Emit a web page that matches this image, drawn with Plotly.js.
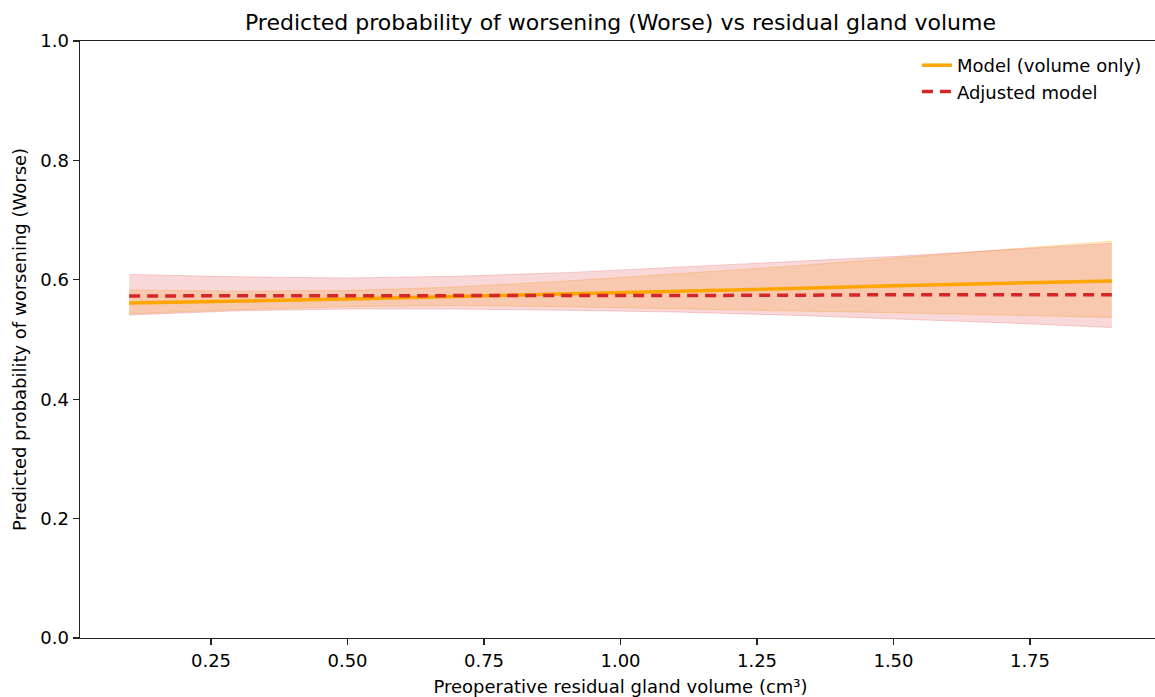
<!DOCTYPE html>
<html>
<head>
<meta charset="utf-8">
<script src="https://cdn.plot.ly/plotly-3.0.1.min.js"></script>
<style>
html, body { margin: 0; padding: 0; overflow: hidden; background: #ffffff; }
#chart { width: 1166px; height: 697px; }
</style>
</head>
<body>
<div id="chart"></div>
<script>
// Data
const volume = [0.1, 0.3, 0.5, 0.7, 0.9, 1.1, 1.3, 1.5, 1.7, 1.9];
const modelVolumeOnly = [0.561, 0.564, 0.568, 0.572, 0.576, 0.580, 0.585, 0.590, 0.594, 0.598];
const modelVolumeOnlyLow = [0.543, 0.550, 0.555, 0.557, 0.555, 0.551, 0.548, 0.545, 0.541, 0.537];
const modelVolumeOnlyHigh = [0.583, 0.581, 0.582, 0.588, 0.598, 0.610, 0.622, 0.636, 0.650, 0.665];
const adjustedModel = [0.573, 0.573, 0.574, 0.574, 0.574, 0.574, 0.574, 0.575, 0.575, 0.575];
const adjustedLow = [0.541, 0.548, 0.551, 0.551, 0.549, 0.546, 0.541, 0.535, 0.528, 0.520];
const adjustedHigh = [0.609, 0.605, 0.603, 0.606, 0.612, 0.621, 0.630, 0.639, 0.650, 0.661];
const xTickVals = [0.25, 0.50, 0.75, 1.00, 1.25, 1.50, 1.75];
const xTickText = ["0.25", "0.50", "0.75", "1.00", "1.25", "1.50", "1.75"];
const yTickVals = [0.0, 0.2, 0.4, 0.6, 0.8, 1.0];
const yTickText = ["0.0", "0.2", "0.4", "0.6", "0.8", "1.0"];

const FONT = "DejaVu Sans, sans-serif";

const traces = [
  // Volume-only model CI band
  { x: volume, y: modelVolumeOnlyLow, type: "scatter", mode: "lines",
    line: { color: "rgba(255,165,0,0.25)", width: 1 }, showlegend: false, hoverinfo: "skip" },
  { x: volume, y: modelVolumeOnlyHigh, type: "scatter", mode: "lines", fill: "tonexty",
    fillcolor: "rgba(255,165,0,0.2)",
    line: { color: "rgba(255,165,0,0.25)", width: 1 }, showlegend: false, hoverinfo: "skip" },
  // Adjusted model CI band
  { x: volume, y: adjustedLow, type: "scatter", mode: "lines",
    line: { color: "rgba(214,39,40,0.2)", width: 1 }, showlegend: false, hoverinfo: "skip" },
  { x: volume, y: adjustedHigh, type: "scatter", mode: "lines", fill: "tonexty",
    fillcolor: "rgba(214,39,40,0.18)",
    line: { color: "rgba(214,39,40,0.2)", width: 1 }, showlegend: false, hoverinfo: "skip" },
  // Lines
  { x: volume, y: modelVolumeOnly, type: "scatter", mode: "lines", name: "Model (volume only)",
    line: { color: "#FFA500", width: 3.5 } },
  { x: volume, y: adjustedModel, type: "scatter", mode: "lines", name: "Adjusted model",
    line: { color: "#d62728", width: 3.5, dash: "11px,7px" } }
];

const layout = {
  width: 1166, height: 697,
  paper_bgcolor: "#ffffff", plot_bgcolor: "#ffffff",
  margin: { l: 80, r: 5, t: 41, b: 59 },
  font: { family: FONT, size: 18, color: "#000000" },
  title: { text: "Predicted probability of worsening (Worse) vs residual gland volume",
    font: { family: FONT, size: 22, color: "#000000" },
    x: 0.5, xref: "paper", y: 1 - 22 / 697, yref: "container", yanchor: "middle" },
  xaxis: {
    range: [0.01, 1.99], tickvals: xTickVals, ticktext: xTickText,
    showgrid: false, zeroline: false, showline: true, linecolor: "#222222", linewidth: 1.4,
    mirror: true, ticks: "outside", ticklen: 6, tickwidth: 1.3, tickcolor: "#222222",
    tickfont: { family: FONT, size: 18, color: "#000000" },
    title: { text: "Preoperative residual gland volume (cm³)", standoff: 10,
      font: { family: FONT, size: 18, color: "#000000" } }
  },
  yaxis: {
    range: [0, 1], tickvals: yTickVals, ticktext: yTickText,
    showgrid: false, zeroline: false, showline: true, linecolor: "#222222", linewidth: 1.4,
    mirror: true, ticks: "outside", ticklen: 6, tickwidth: 1.3, tickcolor: "#222222",
    tickfont: { family: FONT, size: 18, color: "#000000" },
    title: { text: "Predicted probability of worsening (Worse)", standoff: 9,
      font: { family: FONT, size: 18, color: "#000000" } }
  },
  legend: {
    x: 0.987, xanchor: "right", y: 0.99, yanchor: "top",
    bgcolor: "rgba(255,255,255,0.8)", borderwidth: 0,
    font: { family: FONT, size: 18, color: "#000000" },
    traceorder: "normal", tracegroupgap: 0
  },
  showlegend: true
};

Plotly.newPlot("chart", traces, layout, { staticPlot: true, displayModeBar: false });
</script>
</body>
</html>
